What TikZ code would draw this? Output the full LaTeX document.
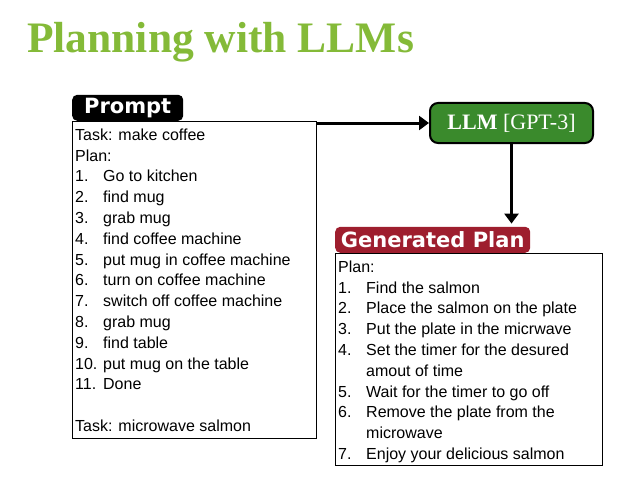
\documentclass[tikz,border=0pt]{standalone}
\usepackage{fontspec}
\setmainfont{Liberation Sans}
\newfontfamily\titlefont{Liberation Serif}
\newfontfamily\tagfont{DejaVu Sans}
\usetikzlibrary{arrows.meta,positioning,calc}
\definecolor{titlegreen}{RGB}{132,186,56}
\definecolor{llmgreen}{RGB}{58,138,44}
\definecolor{planred}{RGB}{158,30,46}
\newcommand{\itm}[1]{\makebox[28pt][l]{#1}}

\begin{document}
\begin{tikzpicture}[x=1pt, y=-1pt,
  every node/.style={inner sep=0pt},
  box/.style={draw, line width=0.9pt, anchor=north west},
  tag/.style={rounded corners=5pt, anchor=south west, minimum height=26pt,
    text=white, font=\tagfont\bfseries\fontsize{21}{24}\selectfont},
  listing/.style={anchor=north west, align=left, font=\fontsize{16}{20.8}\selectfont},
  flow/.style={line width=3pt, -{Triangle[length=10pt,width=14pt]}},
]
\useasboundingbox (0,0) rectangle (628,492);
% title
\node[anchor=base west, text=titlegreen,
  font=\titlefont\bfseries\fontsize{43.5}{48}\selectfont] (title) at (27,53) {Planning with LLMs};
% prompt box
\node[box, minimum width=244pt, minimum height=317pt] (prompt) at (72,121) {};
\node[tag, fill=black, minimum width=111pt] (promptTag) at (prompt.north west) {Prompt};
\node[listing] (promptText) at (75,128.5) {Task: make coffee\\
  Plan:\\
  \itm{1.}Go to kitchen\\
  \itm{2.}find mug\\
  \itm{3.}grab mug\\
  \itm{4.}find coffee machine\\
  \itm{5.}put mug in coffee machine\\
  \itm{6.}turn on coffee machine\\
  \itm{7.}switch off coffee machine\\
  \itm{8.}grab mug\\
  \itm{9.}find table\\
  \itm{10.}put mug on the table\\
  \itm{11.}Done\\[20.8pt]
  Task: microwave salmon};
% model
\node[draw, line width=2pt, fill=llmgreen, rounded corners=8pt, minimum width=163pt,
  minimum height=40pt, text=white, font=\titlefont\fontsize{22}{26}\selectfont]
  (llm) at (511.5,123) {\textbf{LLM} [GPT-3]};
% generated plan box
\node[box, minimum width=267pt, minimum height=212pt] (gen) at (335,253) {};
\node[tag, fill=planred, minimum width=195pt] (genTag) at (gen.north west) {Generated Plan};
\node[listing] (genText) at (338,260.5) {Plan:\\
  \itm{1.}Find the salmon\\
  \itm{2.}Place the salmon on the plate\\
  \itm{3.}Put the plate in the micrwave\\
  \itm{4.}Set the timer for the desured\\
  \itm{}amout of time\\
  \itm{5.}Wait for the timer to go off\\
  \itm{6.}Remove the plate from the\\
  \itm{}microwave\\
  \itm{7.}Enjoy your delicious salmon};
% arrows
\draw[flow] (prompt.north east |- llm.west) -- (llm.west);
\draw[flow, shorten >=3pt] (llm.south) -- (llm.south |- genTag.north);
\end{tikzpicture}
\end{document}
